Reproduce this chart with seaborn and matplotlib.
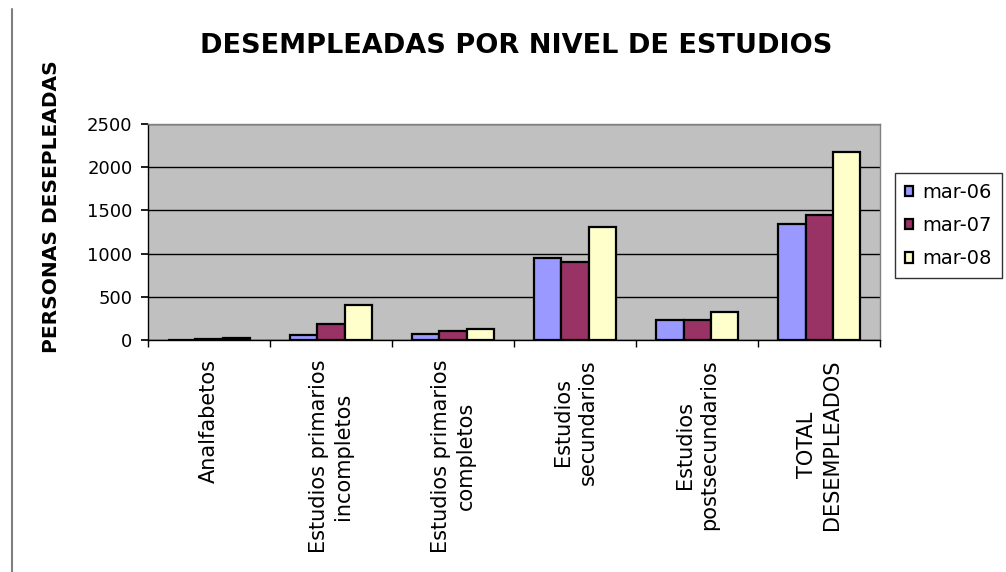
import matplotlib
matplotlib.use("Agg")
import matplotlib.pyplot as plt
import seaborn as sns
import pandas as pd
import numpy as np
from matplotlib.lines import Line2D

categories = ["Analfabetos", "Estudios primarios\nincompletos", "Estudios primarios\ncompletos",
              "Estudios\nsecundarios", "Estudios\npostsecundarios", "TOTAL\nDESEMPLEADOS"]
series = ["mar-06", "mar-07", "mar-08"]
mar06 = [2, 58, 70, 952, 231, 1339]
mar07 = [8, 185, 108, 899, 231, 1447]
mar08 = [25, 405, 124, 1311, 320, 2172]
yticks = [0, 500, 1000, 1500, 2000, 2500]
colors = ["#9999FF", "#993366", "#FFFFCC"]

rows = []
for s, vals in zip(series, [mar06, mar07, mar08]):
    for c, v in zip(categories, vals):
        rows.append({"cat": c, "serie": s, "valor": v})
df = pd.DataFrame(rows)

sns.set_theme(style="white")
plt.rcParams['font.family'] = ['DejaVu Sans']
plt.rcParams['text.color'] = 'black'
plt.rcParams['axes.labelcolor'] = 'black'
plt.rcParams['xtick.color'] = 'black'
plt.rcParams['ytick.color'] = 'black'

fig = plt.figure(figsize=(10.06, 5.72), dpi=100)
ax = fig.add_axes([0.147, 0.4056, 0.728, 0.3776])
ax.set_facecolor("#C0C0C0")

sns.barplot(data=df, x="cat", y="valor", hue="serie", palette=colors, order=categories,
            hue_order=series, edgecolor="black", linewidth=1.6, width=0.67, ax=ax,
            saturation=1, legend=True)

ax.set_ylim(0, 2500)
ax.set_xlim(-0.5, len(categories) - 0.5)
ax.set_yticks(yticks)
ax.set_yticklabels([str(t) for t in yticks], fontsize=13)
ax.yaxis.grid(True, color="black", linewidth=1)
ax.set_axisbelow(True)
for sp in ["top", "right"]:
    ax.spines[sp].set_color("#808080")
    ax.spines[sp].set_linewidth(1)
for sp in ["left", "bottom"]:
    ax.spines[sp].set_color("black")
    ax.spines[sp].set_linewidth(1)

ax.set_xticks(range(len(categories)))
ax.set_xticklabels(categories, rotation=90, fontsize=15, va="top", ha="center", linespacing=1.3)
ax.tick_params(axis="x", which="major", length=0, pad=14)
ax.set_xticks(np.arange(-0.5, len(categories), 1), minor=True)
ax.tick_params(axis="x", which="minor", length=5, color="black", direction="out", bottom=True)
ax.tick_params(axis="y", length=5, color="black", direction="out", left=True, pad=6)

ax.set_xlabel("")
ax.set_ylabel("PERSONAS DESEPLEADAS", fontsize=14.5, fontweight="bold")
ax.yaxis.set_label_coords(-0.119, 0.616)

fig.text(0.513, 0.920, "DESEMPLEADAS POR NIVEL DE ESTUDIOS", ha="center", va="center",
         fontsize=19.5, fontweight="bold")

handles, labels = ax.get_legend_handles_labels()
ax.legend_.remove()
leg = fig.legend(handles, labels, loc="upper left", bbox_to_anchor=(0.8895, 0.6976),
                 fontsize=14, frameon=True, fancybox=False, edgecolor="black",
                 handlelength=0.42, handleheight=0.42, handletextpad=0.5,
                 labelspacing=0.74, borderpad=0.5, borderaxespad=0)
leg.get_frame().set_linewidth(1)

fig.add_artist(Line2D([0.012, 0.012], [0.0, 0.985], transform=fig.transFigure,
                      color="#808080", linewidth=1.5))

fig.savefig("out.png", dpi=100)
